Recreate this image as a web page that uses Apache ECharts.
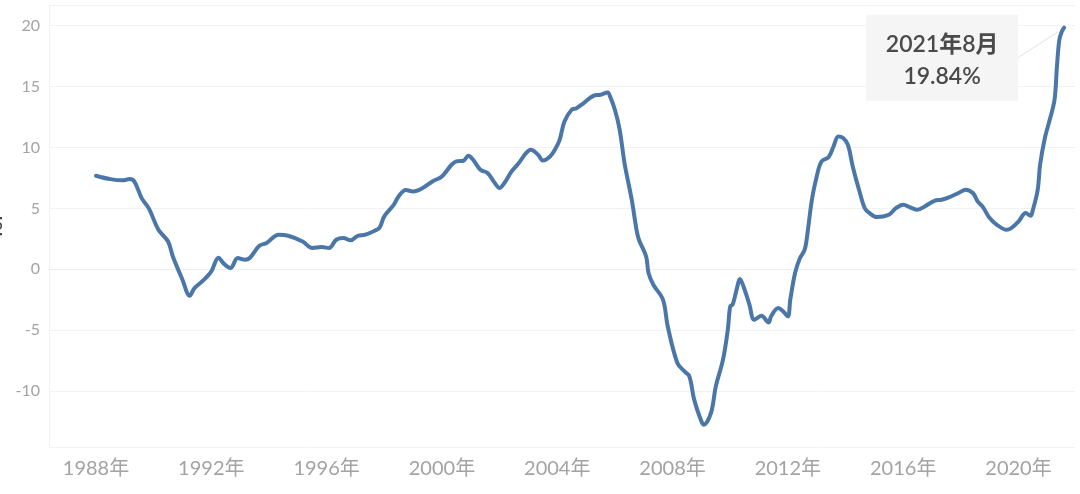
<!DOCTYPE html>
<html>
<head>
<meta charset="utf-8">
<script src="https://cdn.jsdelivr.net/npm/echarts@6/dist/echarts.min.js"></script>
<style>
html,body{margin:0;padding:0;background:#fff;}
#chart{width:1080px;height:494px;}
</style>
</head>
<body>
<div id="chart"></div>
<script>
// Months (YYYY-MM) and YoY values (%)
const months = [
"1988-01","1988-07","1988-12","1989-03","1989-05","1989-08","1989-11","1990-03","1990-07","1990-09",
"1991-01","1991-04","1991-06","1991-10","1992-01","1992-04","1992-06","1992-09","1992-12","1993-03",
"1993-05","1993-09","1993-12","1994-05","1994-09","1995-03","1995-07","1995-11","1996-02","1996-05",
"1996-08","1996-11","1997-02","1997-05","1997-09","1997-11","1998-01","1998-05","1998-07","1998-10",
"1999-01","1999-05","1999-09","2000-01","2000-05","2000-07","2000-10","2000-12","2001-02","2001-05",
"2001-08","2001-11","2002-01","2002-03","2002-06","2002-09","2002-12","2003-02","2003-05","2003-07",
"2003-10","2003-12","2004-02","2004-04","2004-07","2004-09","2004-12","2005-04","2005-07","2005-10",
"2005-11","2006-01","2006-03","2006-05","2006-08","2006-10","2006-11","2007-02","2007-03","2007-05",
"2007-09","2007-11","2008-03","2008-06","2008-08","2008-10","2009-01","2009-02","2009-05","2009-07",
"2009-10","2009-12","2010-01","2010-02","2010-04","2010-05","2010-07","2010-09","2010-11","2011-02",
"2011-05","2011-06","2011-09","2011-11","2012-01","2012-02","2012-04","2012-06","2012-08","2012-09",
"2012-11","2013-01","2013-03","2013-06","2013-08","2013-10","2013-12","2014-02","2014-04","2014-07",
"2014-09","2014-11","2015-02","2015-07","2015-10","2016-01","2016-04","2016-07","2016-10","2017-02",
"2017-05","2017-08","2017-12","2018-03","2018-06","2018-08","2018-10","2019-01","2019-04","2019-08",
"2019-10","2020-01","2020-04","2020-06","2020-07","2020-09","2020-10","2020-12","2021-02","2021-04",
"2021-05","2021-06","2021-07","2021-08"
];
const yoy = [
7.68,7.40,7.30,7.40,7.20,5.84,5.00,3.24,2.28,1.05,
-0.86,-2.18,-1.55,-0.86,-0.18,0.95,0.50,0.10,0.92,0.78,
0.92,1.93,2.15,2.83,2.75,2.28,1.74,1.82,1.74,2.42,
2.56,2.37,2.75,2.83,3.16,3.40,4.34,5.30,6.00,6.50,
6.39,6.67,7.21,7.62,8.58,8.85,8.91,9.32,8.99,8.17,
7.90,7.08,6.67,7.08,8.03,8.72,9.54,9.81,9.40,8.93,
9.26,9.81,10.63,12.13,13.10,13.23,13.65,14.24,14.33,14.52,
14.19,13.10,11.45,8.72,5.71,3.24,2.42,1.05,-0.31,-1.27,
-2.50,-4.70,-7.70,-8.39,-8.80,-10.71,-12.49,-12.77,-11.80,-9.62,
-7.43,-4.97,-3.05,-2.91,-1.41,-0.80,-1.68,-2.91,-4.15,-3.82,
-4.37,-3.87,-3.19,-3.46,-3.87,-2.50,-0.31,0.90,1.60,2.70,
5.71,7.62,8.85,9.21,10.08,10.90,10.77,10.22,8.44,6.26,
5.02,4.61,4.28,4.47,5.02,5.30,5.07,4.88,5.16,5.62,
5.71,5.90,6.26,6.53,6.26,5.57,5.16,4.20,3.65,3.24,
3.38,3.92,4.61,4.39,4.88,6.53,8.60,10.80,12.27,13.92,
16.65,18.84,19.50,19.84
];
const yearTicks = [1988,1992,1996,2000,2004,2008,2012,2016,2020];
const yTicks = [-10,-5,0,5,10,15,20];
const calloutTitle = "2021年8月";
const calloutValue = "19.84%";

function toYear(s){ const p = s.split("-"); return (+p[0]) + (+p[1]-1)/12; }
const seriesData = months.map((m,i)=>[toYear(m), yoy[i]]);

const FONT = 'Lato, "Noto Sans CJK SC", sans-serif';
const chart = echarts.init(document.getElementById('chart'), null, {renderer:'canvas'});
chart.setOption({
  animation:false,
  backgroundColor:'#ffffff',
  grid:{left:49, right:5, top:5, bottom:47, containLabel:false, outerBoundsMode:'none'},
  xAxis:{
    type:'value', min:1986.37, max:2021.96,
    axisLine:{show:true, lineStyle:{color:'#eeeeee'}},
    axisTick:{show:false, customValues:yearTicks},
    splitLine:{show:false},
    axisLabel:{customValues:yearTicks, formatter:v=>Math.round(v)+'年', color:'#a3a3a3', fontSize:20, fontFamily:FONT, margin:12}
  },
  yAxis:{
    type:'value', min:-14.6, max:21.7, splitNumber:7, minInterval:5, maxInterval:5,
    name:'YoY', nameLocation:'middle', nameGap:42, nameRotate:90,
    nameTextStyle:{color:'#444', fontSize:16, fontWeight:'bold', fontFamily:FONT},
    axisLine:{show:true, lineStyle:{color:'#f0f0f0'}},
    axisTick:{show:false},
    splitLine:{show:true, lineStyle:{color:'#f2f2f2', width:1}},
    axisLabel:{color:'#a3a3a3', fontSize:16, fontFamily:FONT, margin:9,
      formatter:v=> yTicks.indexOf(Math.round(v))>=0 && Math.abs(v-Math.round(v))<1e-6 ? String(Math.round(v)) : ''}
  },
  series:[{
    type:'line', data:seriesData, smooth:0.35, showSymbol:false,
    lineStyle:{color:'#4a76a8', width:4, cap:'round', join:'round'},
    itemStyle:{color:'#4a76a8'}
  }]
});

const last = seriesData[seriesData.length-1];
const p = chart.convertToPixel({gridIndex:0}, last);
const boxR = p[0]-46, boxT = p[1]-13, boxW = 152, boxH = 86;
chart.setOption({
  graphic:[
    {type:'line', shape:{x1:boxR, y1:boxT+43, x2:p[0]-6, y2:p[1]+4}, style:{stroke:'#e2e2e2', lineWidth:1}, z:10},
    {type:'rect', shape:{x:boxR-boxW, y:boxT, width:boxW, height:boxH}, style:{fill:'#f5f5f5'}, z:11},
    {type:'text', x:boxR-boxW/2, y:boxT+30, style:{text:calloutTitle, fill:'#4a4a4a', font:'600 23px '+FONT, align:'center', verticalAlign:'middle'}, z:12},
    {type:'text', x:boxR-boxW/2, y:boxT+62, style:{text:calloutValue, fill:'#4a4a4a', font:'600 23px '+FONT, align:'center', verticalAlign:'middle'}, z:12}
  ]
});
</script>
</body>
</html>
